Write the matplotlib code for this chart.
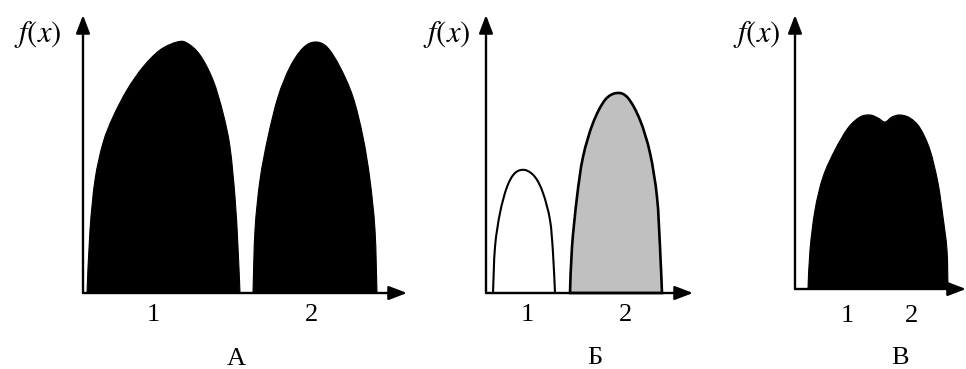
import numpy as np
import matplotlib
matplotlib.use("Agg")
import matplotlib.pyplot as plt
from matplotlib.path import Path
from matplotlib.patches import PathPatch

plt.rcParams['mathtext.fontset'] = 'stix'

W, H = 966, 369

# --- dane (jednostki: piksele od początku osi) ---
# panel A
a1_x = [4, 7, 12, 20, 30, 44, 60, 77, 94, 104, 117, 130, 140, 147, 152, 155, 157]
a1_y = [0, 63, 113, 150, 176, 203, 226, 243, 251, 250, 238, 213, 180, 146, 96, 46, 0]
a2_x = [170, 172, 177, 185, 195, 207, 220, 232, 244, 257, 270, 280, 287, 292, 294]
a2_y = [0, 63, 113, 156, 196, 226, 245, 251, 246, 226, 196, 156, 113, 63, 0]

# panel Б
b1_x = [7, 9, 14, 21, 29, 39, 49, 57, 64, 67, 69]
b1_y = [0, 46, 80, 106, 120, 123, 116, 100, 73, 40, 0]
b2_x = [84, 86, 91, 97, 107, 119, 131, 142, 154, 164, 171, 174, 176]
b2_y = [0, 46, 96, 136, 170, 193, 200, 195, 173, 140, 96, 46, 0]

# panel В
c_x = [13, 15, 20, 28, 40, 53, 65, 75, 83, 90, 97, 105, 115, 125, 135, 143, 148, 152, 153]
c_y = [0, 39, 79, 112, 139, 161, 172, 174, 171, 167, 172, 174, 171, 161, 139, 106, 72, 39, 0]

panel_names = ['А', 'Б', 'В']
tick_labels = ['1', '2']


def smooth_patch(xs, ys, **kw):
    # gładka krzywa przez odczytane punkty (Catmull-Rom -> Bezier)
    P = np.column_stack([xs, ys]).astype(float)
    n = len(P)
    verts, codes = [P[0]], [Path.MOVETO]
    for i in range(n - 1):
        p0, p1 = P[max(i - 1, 0)], P[i]
        p2, p3 = P[i + 1], P[min(i + 2, n - 1)]
        verts += [p1 + (p2 - p0) / 6, p2 - (p3 - p1) / 6, p2]
        codes += [Path.CURVE4] * 3
    verts += [P[0], P[0]]
    codes += [Path.LINETO, Path.CLOSEPOLY]
    return PathPatch(Path(verts, codes), clip_on=False, **kw)


def make_axes(fig, ox, oy, tip_x, tip_y):
    # osie w pikselach: 1 jednostka danych = 1 piksel
    ax = fig.add_axes([ox / W, (H - oy) / H, (tip_x - ox) / W, (oy - tip_y) / H])
    ax.set_xlim(0, tip_x - ox)
    ax.set_ylim(0, oy - tip_y)
    ax.axis('off')
    arrow = dict(arrowstyle='-|>,head_length=1.1,head_width=0.42', lw=1.7,
                 color='black', shrinkA=0, shrinkB=0, mutation_scale=10)
    ax.annotate('', xy=(1, 0), xytext=(0, 0), xycoords='axes fraction',
                arrowprops=arrow, annotation_clip=False)
    ax.annotate('', xy=(0, 1), xytext=(0, 0), xycoords='axes fraction',
                arrowprops=arrow, annotation_clip=False)
    return ax


def label(fig, x, y, s, size, **kw):
    fig.text(x / W, 1 - y / H, s, ha='center', va='center', fontsize=size, **kw)


fig = plt.figure(figsize=(W / 100, H / 100), dpi=100)

# A
ax = make_axes(fig, 83, 293, 407, 15)
ax.add_patch(smooth_patch(a1_x, a1_y, facecolor='black', edgecolor='black', lw=0.8))
ax.add_patch(smooth_patch(a2_x, a2_y, facecolor='black', edgecolor='black', lw=0.8))

# Б
ax = make_axes(fig, 486, 293, 693, 15)
ax.add_patch(smooth_patch(b1_x, b1_y, facecolor='white', edgecolor='black', lw=1.5))
ax.add_patch(smooth_patch(b2_x, b2_y, facecolor='#c0c0c0', edgecolor='black', lw=1.9))

# В
ax = make_axes(fig, 795, 289, 966, 15)
ax.add_patch(smooth_patch(c_x, c_y, facecolor='black', edgecolor='black', lw=0.8))

# podpisy
serif = dict(family='Liberation Serif')
for x, y in [(38, 34), (447, 35), (757, 35)]:
    label(fig, x, y, r'$f(x)$', 22)

for (x1, x2, y), (xn, yn), name in zip(
        [(153, 312, 315), (527, 625, 315), (847, 912, 316)],
        [(236, 359), (595, 358), (900, 358)], panel_names):
    label(fig, x1, y, tick_labels[0], 19, **serif)
    label(fig, x2, y, tick_labels[1], 19, **serif)
    label(fig, xn, yn, name, 19, **serif)

fig.savefig('out.png', dpi=100)
